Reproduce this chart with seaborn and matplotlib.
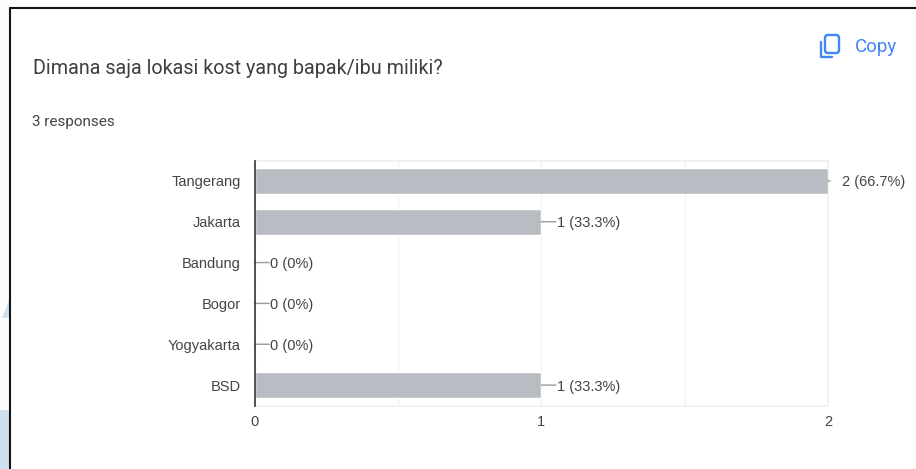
import matplotlib
matplotlib.use("Agg")
import matplotlib.pyplot as plt
from matplotlib.lines import Line2D
from matplotlib.patches import FancyBboxPatch, Polygon, Rectangle
import pandas as pd
import seaborn as sns

locations = ["Tangerang", "Jakarta", "Bandung", "Bogor", "Yogyakarta", "BSD"]
counts = [2, 1, 0, 0, 0, 1]
shares = ["66.7%", "33.3%", "0%", "0%", "0%", "33.3%"]

W, H = 916, 469
sns.set_theme(style="white")
plt.rcParams["font.family"] = ["Liberation Sans", "DejaVu Sans"]

fig = plt.figure(figsize=(W / 100, H / 100), dpi=100, facecolor="#fbfcfd")


def fx(px):
    return px / W


def fy(py):
    return 1 - py / H


# Card behind the chart, with its dark border and the faint page shapes on the left
fig.add_artist(Rectangle((fx(0), fy(469)), fx(10), 59 / H, transform=fig.transFigure,
                         fc="#cfe0ef", ec="none", zorder=-3))
fig.add_artist(Polygon([(fx(2), fy(318)), (fx(9), fy(318)), (fx(9), fy(300))],
                       transform=fig.transFigure, fc="#cfe0ef", ec="none", zorder=-3))
fig.add_artist(Rectangle((fx(10), fy(469)), fx(906), 461 / H, transform=fig.transFigure,
                         fc="white", ec="none", zorder=-2))
fig.add_artist(Line2D([fx(10), fx(10)], [fy(469), fy(8)], color="#141414", lw=1.5, zorder=-1))
fig.add_artist(Line2D([fx(10), fx(916)], [fy(8), fy(8)], color="#141414", lw=1.5, zorder=-1))

ax = fig.add_axes([fx(254.5), fy(405.5), fx(828 - 254.5), 245 / H])
ax.patch.set_alpha(0)

df = pd.DataFrame({"location": locations, "count": counts})
sns.barplot(data=df, x="count", y="location", order=locations, color="#b9bdc3",
            saturation=1, width=0.63, ax=ax, zorder=3)

ax.set_xlim(0, 2)
ax.set_ylim(5.5, -0.5)
ax.set_xlabel("")
ax.set_ylabel("")
ax.set_xticks([0, 0.5, 1, 1.5, 2])
ax.set_xticklabels(["0", "", "1", "", "2"])
ax.grid(axis="x", color="#f3f3f3", lw=1, zorder=0)
ax.set_axisbelow(True)
ax.tick_params(axis="both", length=0, labelsize=10.5, labelcolor="#444444")
ax.tick_params(axis="y", pad=10)
ax.tick_params(axis="x", pad=7)

for side in ("top", "right", "bottom"):
    ax.spines[side].set_color("#f1f1f1")
    ax.spines[side].set_linewidth(1.4)
ax.spines["left"].set_color("#333333")
ax.spines["left"].set_linewidth(1.2)
ax.spines["left"].set_zorder(5)

# Value labels joined to each bar end by a leader; the longest bar only gets a stub
for i, (n, share) in enumerate(zip(counts, shares)):
    reach = 1.5 if n == max(counts) else 10.5
    gap = 10.3 if n == max(counts) else 11.2
    ax.annotate("", xy=(n, i), xytext=(reach, 0), textcoords="offset points",
                arrowprops=dict(arrowstyle="-", color="#9a9a9a", lw=1, shrinkA=0, shrinkB=0),
                annotation_clip=False, zorder=4)
    ax.annotate(f"{n} ({share})", xy=(n, i), xytext=(gap, 0), textcoords="offset points",
                va="center_baseline", ha="left", fontsize=10.5, color="#444444",
                annotation_clip=False)

# Question heading and response count
fig.text(fx(33), fy(68), "Dimana saja lokasi kost yang bapak/ibu miliki?", family="Roboto",
         fontsize=14.2, color="#3c4043", va="center")
fig.text(fx(32), fy(122), "3 responses", family="Roboto", fontsize=11, color="#444444",
         va="center")

# Copy button: two overlapping page outlines and the label
blue = "#4285f4"
fig.add_artist(Line2D([fx(820.5), fx(820.5), fx(832)], [fy(42), fy(57.5), fy(57.5)],
                      color=blue, lw=1.7, solid_capstyle="round"))
fig.add_artist(FancyBboxPatch((fx(825), fy(53)), fx(14), 18 / H,
                              boxstyle="round,pad=0,rounding_size=0.003",
                              mutation_aspect=W / H, transform=fig.transFigure,
                              fc="none", ec=blue, lw=1.7))
fig.text(fx(855), fy(47), "Copy", family="Roboto", fontsize=13.5, color=blue, va="center")

fig.savefig("out.png", dpi=100, facecolor=fig.get_facecolor())
